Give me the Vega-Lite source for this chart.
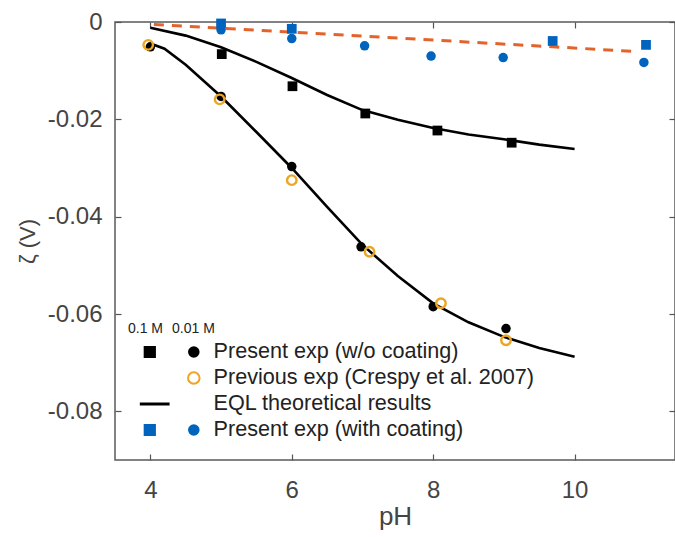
{
  "$schema": "https://vega.github.io/schema/vega-lite/v6.json",
  "width": 560,
  "height": 438,
  "autosize": {"type": "none"},
  "padding": {"left": 115, "top": 22, "right": 0, "bottom": 77},
  "background": "white",
  "config": {
    "font": "Liberation Sans",
    "view": {"stroke": "#5a5a5a", "strokeWidth": 1.5},
    "axis": {
      "grid": false,
      "domain": false,
      "tickColor": "#555555",
      "tickSize": -6,
      "tickWidth": 1.2,
      "labelFont": "Liberation Sans",
      "labelFontSize": 24,
      "labelColor": "#444444",
      "titleFont": "Liberation Sans",
      "titleFontWeight": "normal",
      "titleColor": "#444444"
    },
    "legend": {
      "labelFont": "Liberation Sans",
      "labelFontSize": 21.6,
      "labelColor": "#222222",
      "labelLimit": 0,
      "titleFont": "Liberation Sans",
      "titleFontSize": 14,
      "titleFontWeight": "normal",
      "titleColor": "#222222",
      "padding": 0,
      "rowPadding": 4,
      "clipHeight": 22,
      "symbolOffset": 11,
      "labelOffset": 9,
      "titlePadding": 5
    }
  },
  "datasets": {
    "theory": [
      {"curve": "0.1 M", "pH": 4.0, "zeta": -0.0012},
      {"curve": "0.1 M", "pH": 4.5, "zeta": -0.0028},
      {"curve": "0.1 M", "pH": 5.0, "zeta": -0.0052},
      {"curve": "0.1 M", "pH": 5.5, "zeta": -0.0082},
      {"curve": "0.1 M", "pH": 6.0, "zeta": -0.0115},
      {"curve": "0.1 M", "pH": 6.5, "zeta": -0.0150},
      {"curve": "0.1 M", "pH": 7.0, "zeta": -0.0181},
      {"curve": "0.1 M", "pH": 7.5, "zeta": -0.0201},
      {"curve": "0.1 M", "pH": 8.0, "zeta": -0.0218},
      {"curve": "0.1 M", "pH": 8.5, "zeta": -0.0231},
      {"curve": "0.1 M", "pH": 9.0, "zeta": -0.0241},
      {"curve": "0.1 M", "pH": 9.5, "zeta": -0.0252},
      {"curve": "0.1 M", "pH": 10.0, "zeta": -0.0261},
      {"curve": "0.01 M", "pH": 4.0, "zeta": -0.0044},
      {"curve": "0.01 M", "pH": 4.2, "zeta": -0.0055},
      {"curve": "0.01 M", "pH": 4.5, "zeta": -0.0088},
      {"curve": "0.01 M", "pH": 5.0, "zeta": -0.0153},
      {"curve": "0.01 M", "pH": 5.5, "zeta": -0.0226},
      {"curve": "0.01 M", "pH": 6.0, "zeta": -0.0300},
      {"curve": "0.01 M", "pH": 6.5, "zeta": -0.0380},
      {"curve": "0.01 M", "pH": 7.0, "zeta": -0.0458},
      {"curve": "0.01 M", "pH": 7.5, "zeta": -0.0522},
      {"curve": "0.01 M", "pH": 8.0, "zeta": -0.0578},
      {"curve": "0.01 M", "pH": 8.5, "zeta": -0.0617},
      {"curve": "0.01 M", "pH": 9.0, "zeta": -0.0647},
      {"curve": "0.01 M", "pH": 9.5, "zeta": -0.0670},
      {"curve": "0.01 M", "pH": 10.0, "zeta": -0.0688}
    ],
    "coatingFit": [
      {"pH": 4.05, "zeta": -0.0005},
      {"pH": 10.8, "zeta": -0.0060}
    ],
    "squares": [
      {"set": "0.1 M w/o coating", "pH": 5.01, "zeta": -0.0066},
      {"set": "0.1 M w/o coating", "pH": 6.01, "zeta": -0.0132},
      {"set": "0.1 M w/o coating", "pH": 7.04, "zeta": -0.0188},
      {"set": "0.1 M w/o coating", "pH": 8.06, "zeta": -0.0223},
      {"set": "0.1 M w/o coating", "pH": 9.11, "zeta": -0.0248},
      {"set": "0.1 M with coating", "pH": 5.0, "zeta": -0.0003},
      {"set": "0.1 M with coating", "pH": 6.0, "zeta": -0.0014},
      {"set": "0.1 M with coating", "pH": 9.69, "zeta": -0.0039},
      {"set": "0.1 M with coating", "pH": 11.01, "zeta": -0.0047}
    ],
    "circles": [
      {"series": "Present exp (w/o coating)", "pH": 4.0, "zeta": -0.0051},
      {"series": "Present exp (w/o coating)", "pH": 5.0, "zeta": -0.0153},
      {"series": "Present exp (w/o coating)", "pH": 6.0, "zeta": -0.0297},
      {"series": "Present exp (w/o coating)", "pH": 6.98, "zeta": -0.0462},
      {"series": "Present exp (w/o coating)", "pH": 8.0, "zeta": -0.0585},
      {"series": "Present exp (w/o coating)", "pH": 9.03, "zeta": -0.0630},
      {"series": "Previous exp (Crespy et al. 2007)", "pH": 3.97, "zeta": -0.0047},
      {"series": "Previous exp (Crespy et al. 2007)", "pH": 4.98, "zeta": -0.0159},
      {"series": "Previous exp (Crespy et al. 2007)", "pH": 6.0, "zeta": -0.0325},
      {"series": "Previous exp (Crespy et al. 2007)", "pH": 7.1, "zeta": -0.0472},
      {"series": "Previous exp (Crespy et al. 2007)", "pH": 8.11, "zeta": -0.0578},
      {"series": "Previous exp (Crespy et al. 2007)", "pH": 9.03, "zeta": -0.0654},
      {"series": "Present exp (with coating)", "pH": 5.0, "zeta": -0.0016},
      {"series": "Present exp (with coating)", "pH": 6.0, "zeta": -0.0034},
      {"series": "Present exp (with coating)", "pH": 7.03, "zeta": -0.0049},
      {"series": "Present exp (with coating)", "pH": 7.97, "zeta": -0.0070},
      {"series": "Present exp (with coating)", "pH": 8.99, "zeta": -0.0073},
      {"series": "Present exp (with coating)", "pH": 10.98, "zeta": -0.0083}
    ]
  },
  "layer": [
    {
      "data": {"name": "theory"},
      "mark": {"type": "line", "color": "#000000", "strokeWidth": 2.6},
      "encoding": {
        "x": {
          "field": "pH", "type": "quantitative",
          "scale": {"domain": [3.5, 11.42], "nice": false, "zero": false},
          "axis": {"orient": "bottom", "values": [4, 6, 8, 10], "title": "pH", "titleFontSize": 26, "labelPadding": 24, "titlePadding": 1}
        },
        "y": {
          "field": "zeta", "type": "quantitative",
          "scale": {"domain": [-0.09, 0], "nice": false, "zero": false},
          "axis": {"orient": "left", "values": [0, -0.02, -0.04, -0.06, -0.08], "labelExpr": "datum.value == 0 ? '0' : '-' + format(-datum.value, '.2f')", "title": "ζ (V)", "titleFontSize": 22, "labelPadding": 19, "titlePadding": 8}
        },
        "detail": {"field": "curve"}
      }
    },
    {
      "data": {"name": "coatingFit"},
      "mark": {"type": "line", "color": "#E2642B", "strokeWidth": 3, "strokeDash": [10, 8]},
      "encoding": {
        "x": {
          "field": "pH", "type": "quantitative",
          "scale": {"domain": [3.5, 11.42], "nice": false, "zero": false},
          "axis": {"orient": "top", "values": [4, 6, 8, 10], "labels": false, "title": null}
        },
        "y": {
          "field": "zeta", "type": "quantitative",
          "scale": {"domain": [-0.09, 0], "nice": false, "zero": false},
          "axis": {"orient": "right", "values": [0, -0.02, -0.04, -0.06, -0.08], "labels": false, "title": null}
        }
      }
    },
    {
      "data": {"name": "squares"},
      "mark": {"type": "point", "filled": true, "size": 95, "strokeWidth": 3.2, "opacity": 1},
      "encoding": {
        "x": {"field": "pH", "type": "quantitative", "axis": null},
        "y": {"field": "zeta", "type": "quantitative", "axis": null},
        "shape": {
          "field": "set", "type": "nominal",
          "scale": {"domain": ["0.1 M w/o coating", "0.1 M previous", "0.1 M EQL", "0.1 M with coating"], "range": ["square", "square", "M-1.63,0L8.17,0", "square"]},
          "legend": {"orient": "none", "legendX": 13, "legendY": 300, "title": "0.1 M", "labelExpr": "' '", "symbolSize": 150, "symbolStrokeWidth": 3.2}
        },
        "fill": {
          "field": "set", "type": "nominal",
          "scale": {"domain": ["0.1 M w/o coating", "0.1 M previous", "0.1 M EQL", "0.1 M with coating"], "range": ["#000000", "transparent", "transparent", "#0063BE"]}
        },
        "stroke": {
          "field": "set", "type": "nominal",
          "scale": {"domain": ["0.1 M w/o coating", "0.1 M previous", "0.1 M EQL", "0.1 M with coating"], "range": ["transparent", "transparent", "#000000", "transparent"]}
        }
      }
    },
    {
      "data": {"name": "circles"},
      "mark": {"type": "point", "shape": "circle", "filled": true, "size": 90, "strokeWidth": 2.4, "opacity": 1},
      "encoding": {
        "x": {"field": "pH", "type": "quantitative", "axis": null},
        "y": {"field": "zeta", "type": "quantitative", "axis": null},
        "fill": {
          "field": "series", "type": "nominal",
          "scale": {"domain": ["Present exp (w/o coating)", "Previous exp (Crespy et al. 2007)", "EQL theoretical results", "Present exp (with coating)"], "range": ["#000000", "transparent", "transparent", "#0063BE"]},
          "legend": {"orient": "none", "legendX": 57, "legendY": 300, "title": "0.01 M", "symbolType": "circle", "symbolSize": 133, "symbolStrokeWidth": 2}
        },
        "stroke": {
          "field": "series", "type": "nominal",
          "scale": {"domain": ["Present exp (w/o coating)", "Previous exp (Crespy et al. 2007)", "EQL theoretical results", "Present exp (with coating)"], "range": ["transparent", "#EDA524", "transparent", "transparent"]}
        }
      }
    }
  ],
  "resolve": {
    "axis": {"x": "independent", "y": "independent"},
    "scale": {"fill": "independent", "stroke": "independent", "shape": "independent"}
  }
}
